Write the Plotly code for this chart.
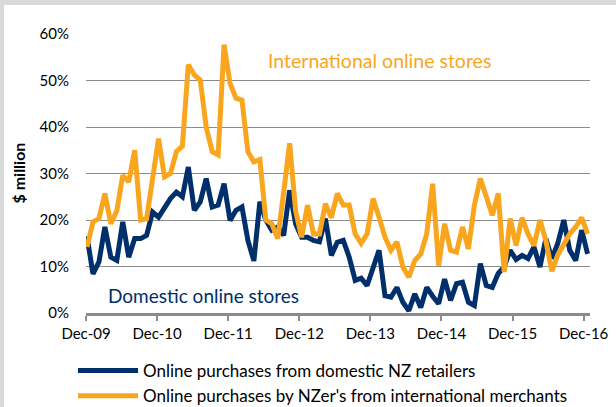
import plotly.graph_objects as go

# Monthly data Dec-09 .. Dec-16 (annual % growth)
months = list(range(85))
tick_labels = ["Dec-09", "Dec-10", "Dec-11", "Dec-12", "Dec-13", "Dec-14", "Dec-15", "Dec-16"]

domestic = [16.5, 8.4, 11, 18.5, 12, 11.3, 19.6, 12, 16, 16, 16.7, 21.7, 20.6,
            22.8, 24.6, 26, 25, 31.4, 22.1, 23.9, 28.9, 22.8, 23.2, 27.8, 19.9,
            22.1, 22.8, 15.6, 11.2, 23.9, 20, 17.8, 18.5, 16.7, 26.4, 19.2, 16.3,
            16.3, 15.6, 15.3, 20.3, 12.4, 15.2, 15.6, 12, 7, 7.5, 5.9, 9.5,
            13.5, 3.7, 3.4, 5.5, 2.3, 0.5, 4.1, 1.2, 5.5, 3.6, 2, 7.3,
            2.7, 6.3, 6.6, 2.3, 1.6, 10.6, 5.9, 5.5, 8.5, 9.9, 13.5, 11.5,
            12.4, 11.7, 14.2, 9.9, 16, 11.7, 15, 20, 13.5, 11.3, 17.8, 12.7]

international = [14.2, 19.6, 20.3, 25.7, 19.2, 22, 29.6, 28.2, 35, 20, 20.3, 29, 37.5,
                 29.3, 30, 34.7, 35.9, 53.4, 51.2, 50.1, 40, 34.7, 34, 57.7, 49.4,
                 46.2, 45.8, 34.7, 32.5, 33, 20, 19.2, 16, 26, 36.5, 22, 16.3,
                 23.2, 17, 17, 23.5, 20.5, 25.7, 23.2, 23.2, 17, 15, 17, 24.6,
                 20.6, 16.3, 13.5, 15.3, 9.9, 7.7, 11.3, 12.7, 17, 27.8, 10.2, 19.2,
                 13.5, 13.1, 18.5, 13.8, 23.2, 28.9, 25, 21, 25.7, 8.8, 20.3, 14.5,
                 20.5, 17, 14.5, 20, 15.5, 9, 12.5, 15, 17, 18.5, 20.5, 17]

NAVY = "#002F6C"
ORANGE = "#F9A61E"
FONT = "Lato"
FRAME = "#d9d9d9"

# page is 616x407; the chart sits inside a light grey frame (4px left, 5px top)
OX, OY = 4, 5
W, H = 616 - OX, 407 - OY
L, R, T, B = 82, 26, 29, 94

fig = go.Figure()
fig.add_trace(go.Scatter(x=months, y=domestic, mode="lines", name="Online purchases from domestic NZ retailers",
                         line=dict(color=NAVY, width=5)))
fig.add_trace(go.Scatter(x=months, y=international, mode="lines",
                         name="Online purchases by NZer's from international merchants",
                         line=dict(color=ORANGE, width=5)))

tickvals = [-0.17 + 11.93 * k for k in range(len(tick_labels))]

fig.update_layout(
    width=W, height=H,
    margin=dict(l=L, r=R, t=T, b=B, autoexpand=False),
    paper_bgcolor="white", plot_bgcolor="white",
    font=dict(family=FONT, size=15, color="#000000"),
    xaxis=dict(range=[-0.17, 84.4], tickvals=tickvals, ticktext=tick_labels,
               showgrid=False, showline=True, linecolor="#8c8c8c", linewidth=2.5,
               ticks="outside", ticklen=5, tickwidth=2, tickcolor="#8c8c8c",
               zeroline=False, tickfont=dict(size=15)),
    yaxis=dict(range=[0, 60], tickvals=[0, 10, 20, 30, 40, 50, 60],
               ticktext=["0%", "10%", "20%", "30%", "40%", "50%", "60%"],
               showgrid=True, gridcolor="#8c8c8c", gridwidth=1, zeroline=False,
               showline=False, ticks="", ticklabelstandoff=16),
    legend=dict(orientation="v", xref="container", x=69 / W, xanchor="left",
                yref="container", y=(H - 348) / H, yanchor="top",
                font=dict(size=17), itemwidth=60, tracegroupgap=2, bgcolor="rgba(0,0,0,0)"),
    showlegend=True,
)

# y-axis title as a rotated annotation
fig.add_annotation(x=(14 - L) / (W - L - R), xref="paper", xanchor="center",
                   y=0.5, yref="paper", yanchor="middle", text="<b>$ million</b>",
                   textangle=-90, showarrow=False, font=dict(size=16, color="#000000"))

fig.add_annotation(x=49.1, xref="x", y=54.2, yref="y", text="International online stores",
                   showarrow=False, font=dict(size=19.5, color=ORANGE))
fig.add_annotation(x=3.2, xref="x", y=3.8, yref="y", text="Domestic online stores",
                   showarrow=False, font=dict(size=19, color=NAVY), xanchor="left")

post = (
    "document.documentElement.style.background='" + FRAME + "';"
    "document.body.style.margin='0';"
    "document.body.style.overflow='hidden';"
    "document.body.style.background='" + FRAME + "';"
    "var gd=document.getElementById('{plot_id}');"
    "gd.style.marginLeft='" + str(OX) + "px';"
    "gd.style.paddingTop='" + str(OY) + "px';"
)

fig.write_html("out.html", config={"displayModeBar": False}, post_script=post)
